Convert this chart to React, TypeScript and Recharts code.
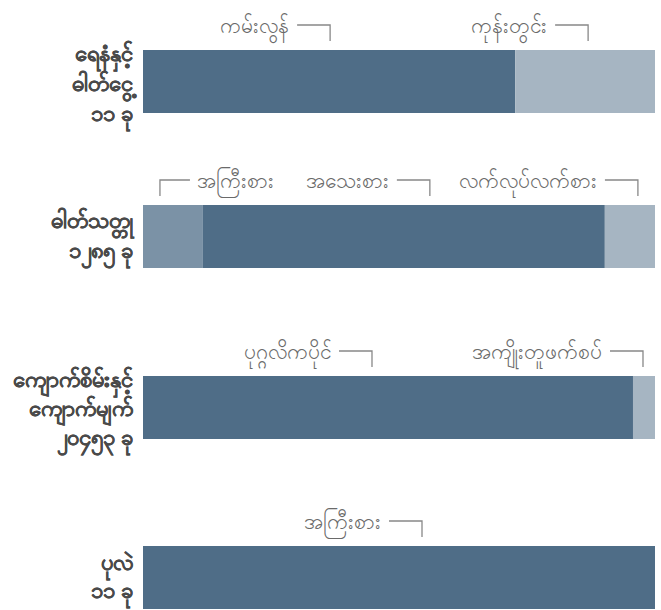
import React from 'react';
import { BarChart, Bar, XAxis, YAxis, LabelList } from 'recharts';

// row labels (lines split by \n)
const categories = [
  'ရေနံနှင့်\nဓါတ်ငွေ့\n၁၁ ခု',
  'ဓါတ်သတ္တု\n၁၂၈၅ ခု',
  'ကျောက်စိမ်းနှင့်\nကျောက်မျက်\n၂၀၄၅၃ ခု',
  'ပုလဲ\n၁၁ ခု',
];

const segmentNames = [
  ['ကမ်းလွန်', 'ကုန်းတွင်း'],
  ['အကြီးစား', 'အသေးစား', 'လက်လုပ်လက်စား'],
  ['ပုဂ္ဂလိကပိုင်', 'အကျိုးတူဖက်စပ်'],
  ['အကြီးစား'],
];

// share of each segment, percent
const segmentValues = [
  [72.7, 27.3],
  [11.7, 78.5, 9.8],
  [95.7, 4.3],
  [100],
];

// styling
const DARK = '#4f6d87';
const LIGHT = '#a6b5c2';
const MEDIUM = '#7b92a6';
const SEGMENT_COLORS = [
  [DARK, LIGHT],
  [MEDIUM, DARK, LIGHT],
  [DARK, LIGHT],
  [DARK],
];
// where the bracket sits, relative to the segment centre
const ANCHOR_DX = [
  [1, 3],
  [-13, 26, 8],
  [-16, -1],
  [23],
];
const LEFT_FACING = [
  [false, false],
  [true, false, false],
  [false, false],
  [false],
];
const LABEL_DY = [0, -3, -1, -3];
const LABEL_LH = [30, 30, 29, 28];
const ROW_HEIGHTS = [155, 171, 170, 114];
const BAR_TOP = 50;
const BAR_HEIGHT = 63;
const FONT = "'Noto Sans', 'DejaVu Sans', sans-serif";

const makeTick = (row: number) => (props: any) => {
  const { x, y, payload } = props;
  const lines: string[] = String(payload.value).split('\n');
  const lh = LABEL_LH[row];
  const y0 = y - ((lines.length - 1) * lh) / 2 + LABEL_DY[row];
  return (
    <text
      x={x}
      y={y0}
      textAnchor="end"
      dominantBaseline="central"
      fontFamily={FONT}
      fontWeight="bold"
      fontSize={22}
      fill="#4a4a4a"
      stroke="#4a4a4a"
      strokeWidth={0.25}
    >
      {lines.map((l, i) => (
        <tspan key={i} x={x} y={y0 + i * lh}>
          {l}
        </tspan>
      ))}
    </text>
  );
};

const makeAnnotation = (row: number, seg: number) => (props: any) => {
  const x = Number(props.x);
  const y = Number(props.y);
  const w = Number(props.width);
  const bx = x + w / 2 + ANCHOR_DX[row][seg];
  const ty = y - 25;
  const bottom = y - 9;
  const left = LEFT_FACING[row][seg];
  const pts = left
    ? `${bx + 30},${ty} ${bx},${ty} ${bx},${bottom}`
    : `${bx - 33},${ty} ${bx},${ty} ${bx},${bottom}`;
  return (
    <g>
      <polyline points={pts} fill="none" stroke="#888" strokeWidth={1.3} />
      <text
        x={left ? bx + 37 : bx - 41}
        y={ty}
        textAnchor={left ? 'start' : 'end'}
        dominantBaseline="central"
        fontFamily={FONT}
        fontSize={21}
        fill="#6a6a6a"
      >
        {segmentNames[row][seg]}
      </text>
    </g>
  );
};

const Row: React.FC<{ row: number }> = ({ row }) => {
  const item: Record<string, any> = { name: categories[row] };
  segmentValues[row].forEach((v, i) => {
    item[`s${i}`] = v;
  });
  const height = ROW_HEIGHTS[row];
  const Tick = makeTick(row);
  return (
    <BarChart
      width={661}
      height={height}
      data={[item]}
      layout="vertical"
      barCategoryGap={0}
      margin={{ top: BAR_TOP, right: 6, bottom: height - BAR_TOP - BAR_HEIGHT, left: 0 }}
    >
      <XAxis type="number" domain={[0, 100]} hide />
      <YAxis
        type="category"
        dataKey="name"
        width={143}
        axisLine={false}
        tickLine={false}
        tickSize={0}
        tickMargin={10}
        tick={<Tick />}
      />
      {segmentValues[row].map((_, i) => (
        <Bar
          key={i}
          dataKey={`s${i}`}
          stackId="a"
          fill={SEGMENT_COLORS[row][i]}
          isAnimationActive={false}
        >
          <LabelList dataKey={`s${i}`} content={makeAnnotation(row, i)} />
        </Bar>
      ))}
    </BarChart>
  );
};

export default function App() {
  return (
    <div style={{ position: 'absolute', left: 0, top: 0, width: 661, height: 610, background: '#fff' }}>
      {categories.map((_, i) => (
        <Row key={i} row={i} />
      ))}
    </div>
  );
}
